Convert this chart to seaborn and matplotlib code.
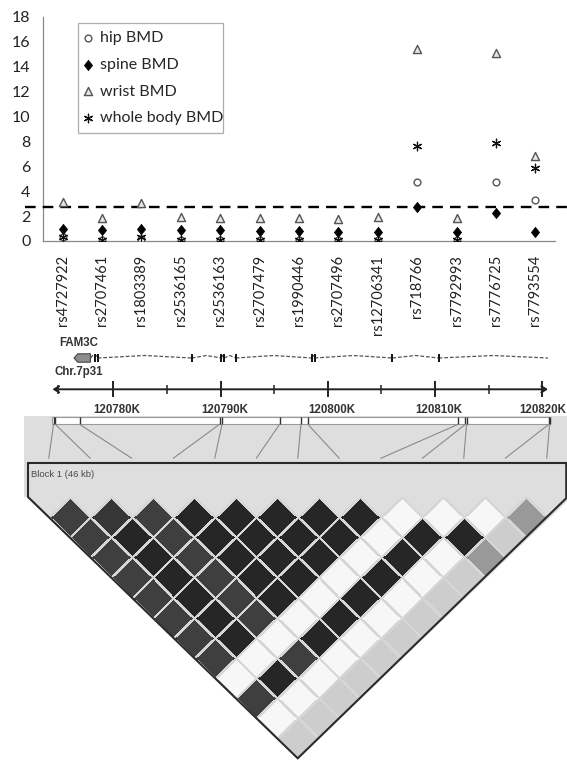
import numpy as np
import pandas as pd
import matplotlib
matplotlib.use("Agg")
import matplotlib.pyplot as plt
import seaborn as sns
from matplotlib.transforms import Affine2D
from matplotlib.patches import Polygon, Rectangle, ConnectionPatch
from matplotlib.colors import LinearSegmentedColormap

# ---------------- data ----------------
snps = ["rs4727922", "rs2707461", "rs1803389", "rs2536165", "rs2536163",
        "rs2707479", "rs1990446", "rs2707496", "rs12706341", "rs718766",
        "rs7792993", "rs7776725", "rs7793554"]
hip_bmd = [0.30, 0.05, 0.20, 0.10, 0.05, 0.10, 0.05, 0.05, 0.10, 4.77, 0.05, 4.77, 3.33]
spine_bmd = [0.96, 0.88, 0.96, 0.88, 0.88, 0.77, 0.77, 0.70, 0.70, 2.69, 0.70, 2.21, 0.75]
wrist_bmd = [3.14, 1.81, 3.01, 1.94, 1.81, 1.86, 1.86, 1.76, 1.90, 15.39, 1.87, 15.12, 6.79]
whole_body_bmd = [0.35, 0.05, 0.30, 0.10, 0.05, 0.12, 0.05, 0.05, 0.10, 7.59, 0.05, 7.85, 5.89]
threshold = 2.7
y_ticks = [0, 2, 4, 6, 8, 10, 12, 14, 16, 18]

gene_name = "FAM3C"
chrom_label = "Chr.7p31"
major_kb = [120780, 120790, 120800, 120810, 120820]
minor_kb = [120785, 120795, 120805, 120815]
axis_start_kb = 120774.34
axis_first_tick_kb = 120774.85
axis_end_kb = 120820.52
snp_pos_kb = [120774.44, 120774.60, 120776.87, 120789.91, 120790.14, 120795.51,
              120797.50, 120798.14, 120812.15, 120812.83, 120812.93, 120820.60, 120820.67]
utr_kb = [120776.35, 120777.88]
exon_kb = [120778.29, 120778.55, 120787.32, 120790.07, 120790.32, 120791.42,
           120798.50, 120798.77, 120806.02, 120810.33]
gene_end_kb = 120820.52
block_label = "Block 1 (46 kb)"

# LD (shade) values, upper triangle rows: ld_rows[i] holds pairs (i, i+1..12)
D, G, M, L, W = 1.0, 0.88, 0.45, 0.20, 0.0
ld_rows = [
    [G, G, G, G, G, G, G, G, W, G, W, L],
    [0.92, D, D, D, D, D, D, W, D, W, L],
    [G, G, G, G, G, G, W, G, W, L],
    [D, D, D, D, D, W, D, W, L],
    [D, D, D, D, W, D, W, L],
    [D, D, D, W, D, W, L],
    [D, D, W, D, W, L],
    [D, W, D, W, L],
    [W, D, W, L],
    [W, D, M],
    [W, L],
    [M],
]

# ---------------- figure ----------------
sns.set_style("white")
plt.rcParams["font.family"] = ["Lato", "DejaVu Sans"]

W_PX, H_PX = 567, 760
fig = plt.figure(figsize=(W_PX / 100, H_PX / 100), dpi=100)


def frac_rect(x0, y0, x1, y1):
    """pixel box (top-left origin) -> figure fraction rect"""
    return [x0 / W_PX, 1 - y1 / H_PX, (x1 - x0) / W_PX, (y1 - y0) / H_PX]


# ---- top association plot ----
ax = fig.add_axes(frac_rect(43, 16.7, 555, 241))
pos = np.arange(len(snps))
df = pd.DataFrame({"pos": pos, "hip": hip_bmd, "spine": spine_bmd,
                   "wrist": wrist_bmd, "whole": whole_body_bmd})

diamond = [(0, 1), (0.8, 0), (0, -1), (-0.8, 0), (0, 1)]
sns.scatterplot(data=df, x="pos", y="hip", marker="o", s=24, facecolor="white",
                edgecolor="#555555", linewidth=1.0, label="hip BMD", ax=ax, zorder=4)
sns.scatterplot(data=df, x="pos", y="spine", marker=diamond, s=55, color="black",
                edgecolor="black", linewidth=0.5, label="spine BMD", ax=ax, zorder=5)
sns.scatterplot(data=df, x="pos", y="wrist", marker="^", s=34, facecolor="#e6e6e6",
                edgecolor="#555555", linewidth=1.0, label="wrist BMD", ax=ax, zorder=4)
sns.scatterplot(data=df, x="pos", y="whole", marker=(6, 2, 0), s=38, color="#111111",
                linewidth=0.9, label="whole body BMD", ax=ax, zorder=6)

ax.axhline(threshold, xmin=-0.035, xmax=1.03, color="black", lw=1.7,
           ls=(0, (4.5, 3)), clip_on=False, zorder=3)

ax.set_xlim(-0.5, len(snps) - 0.5)
ax.set_ylim(0, 18)
ax.set_yticks(y_ticks)
ax.set_xticks(pos)
ax.set_xticklabels(snps, rotation=90, fontsize=10.5, color="#222222")
ax.set_xticks(np.arange(len(snps) + 1) - 0.5, minor=True)
ax.tick_params(axis="x", which="major", length=0, pad=10)
ax.tick_params(axis="x", which="minor", length=3, direction="in", color="#888888", width=0.8)
ax.tick_params(axis="y", length=4, direction="in", color="#888888", width=0.8,
               labelsize=11.5, pad=9, labelcolor="#222222")
ax.set_xlabel("")
ax.set_ylabel("")
for s in ["top", "right"]:
    ax.spines[s].set_visible(False)
for s in ["left", "bottom"]:
    ax.spines[s].set_color("#888888")
    ax.spines[s].set_linewidth(0.9)

leg = ax.legend(loc="upper left", bbox_to_anchor=(0.068, 0.5, 0.283, 0.471),
                mode="expand", borderaxespad=0,
                fontsize=11.5, frameon=True, fancybox=False, handlelength=0.3,
                handletextpad=0.6, labelspacing=0.78, borderpad=0.5)
leg.get_frame().set_edgecolor("#999999")
leg.get_frame().set_linewidth(0.9)

# ---- LD triangle (drawn first so gene axes overlay it) ----
x0_px, w_px, y0_px, h_px = 28.0, 41.5, 497.0, 40.2
n = len(snps)
u_min, u_max, v_min, v_max = -0.1, 13.0, -2.02, 6.5
ax_ld = fig.add_axes(frac_rect(x0_px + w_px * u_min, y0_px + h_px * v_min,
                               x0_px + w_px * u_max, y0_px + h_px * v_max))

ld = np.full((n, n), np.nan)
for i, row in enumerate(ld_rows):
    for k, val in enumerate(row):
        ld[i, i + 1 + k] = val
mask = np.isnan(ld)
cmap = LinearSegmentedColormap.from_list("ldgray", ["#f7f7f7", "#262626"])
sns.heatmap(ld, mask=mask, cmap=cmap, vmin=0, vmax=1, cbar=False,
            linewidths=0.9, linecolor="#d6d6d6", xticklabels=False,
            yticklabels=False, ax=ax_ld)
mesh = ax_ld.collections[0]
mesh.set_transform(Affine2D(np.array([[0.5, 0.5, 0.0], [0.5, -0.5, 0.0], [0, 0, 1]]))
                   + ax_ld.transData)
mesh.set_zorder(3)

ax_ld.set_xlim(u_min, u_max)
ax_ld.set_ylim(v_max, v_min)
ax_ld.axis("off")

tri_clip = Polygon([(0, 0), (n / 2, n / 2), (n, 0)], closed=True,
                   transform=ax_ld.transData, facecolor="none", edgecolor="none")
mesh.set_clip_path(tri_clip)

panel = Polygon([(u_min, v_min), (u_max + 0.1, v_min), (u_max + 0.1, 0), (n / 2, n / 2),
                 (0, 0), (u_min, 0)], closed=True, facecolor="#dedede",
                edgecolor="none", zorder=1)
ax_ld.add_patch(panel)
v_box = -0.846
outline = [(0, v_box), (0, 0), (n / 2, n / 2), (n - 0.03, 0.03), (n - 0.03, v_box), (0, v_box)]
ax_ld.plot([p[0] for p in outline], [p[1] for p in outline], color="#2a2a2a",
           lw=1.5, zorder=5, clip_on=False, solid_joinstyle="miter")
ax_ld.text(0.08, -0.55, block_label, fontsize=6.8, color="#4a4a4a",
           family=["Liberation Sans", "DejaVu Sans"], ha="left", va="center", zorder=6)

# ---- gene / chromosome track ----
px_to_kb = lambda px: 120780 + (px - 113.2) / 10.73
ax_g = fig.add_axes(frac_rect(0, 336, W_PX, 426))
ax_g.set_xlim(px_to_kb(0), px_to_kb(W_PX))
ax_g.set_ylim(426, 336)
ax_g.axis("off")
ax_g.patch.set_alpha(0)

bold = dict(family=["Liberation Sans", "DejaVu Sans"], weight="bold", color="#333333")
ax_g.text(utr_kb[0] - 1.35, 343, gene_name, fontsize=8.3, ha="left", va="center", **bold)
ax_g.text(utr_kb[0] - 1.85, 372.5, chrom_label, fontsize=8.3, ha="left", va="center", **bold)

# introns as shallow chevrons
feat = [utr_kb[1]] + exon_kb + [gene_end_kb]
for a, b in zip(feat[:-1], feat[1:]):
    if b - a < 0.05:
        continue
    ax_g.plot([a, (a + b) / 2, b], [358, 355.5, 358], color="#555555", lw=0.9,
              ls=(0, (3, 1.5)))
ax_g.add_patch(Polygon([(utr_kb[0], 358), (utr_kb[0] + 0.35, 353.8), (utr_kb[1], 353.8),
                        (utr_kb[1], 362.2), (utr_kb[0] + 0.35, 362.2)], closed=True,
                       facecolor="#8c8c8c", edgecolor="#444444", lw=0.8))
ax_g.vlines(exon_kb, 354.3, 362, color="#111111", lw=1.4)

# chromosome axis
ax_g.annotate("", xy=(axis_end_kb, 389.3), xytext=(axis_start_kb, 389.3),
              arrowprops=dict(arrowstyle="<->,head_length=0.35,head_width=0.22",
                              color="#222222", lw=1.4, shrinkA=0, shrinkB=0))
ax_g.vlines(major_kb, 381, 397, color="#222222", lw=1.4)
ax_g.vlines(minor_kb, 384.5, 394, color="#222222", lw=1.1)
ax_g.vlines([axis_first_tick_kb], 385, 393.5, color="#222222", lw=1.1)
for kb in major_kb[:-1]:
    ax_g.text(kb + 0.35, 409.5, f"{kb}K", fontsize=8.3, ha="center", va="center", **bold)
ax_g.text(px_to_kb(566.5), 409.5, f"{major_kb[-1]}K", fontsize=8.3, ha="right",
          va="center", **bold)

# SNP strip
ax_g.add_patch(Rectangle((axis_start_kb, 416.7), px_to_kb(549.7) - axis_start_kb, 7.6,
                         facecolor="white", edgecolor="#9a9a9a", lw=0.8, zorder=2))
ax_g.vlines(snp_pos_kb, 416.7, 424.3, color="#333333", lw=1.0, zorder=3)

for k, kb in enumerate(snp_pos_kb):
    con = ConnectionPatch(xyA=(kb, 424.3), coordsA=ax_g.transData,
                          xyB=(k + 0.5, -0.963), coordsB=ax_ld.transData,
                          color="#8a8a8a", lw=0.8)
    fig.add_artist(con)

fig.savefig("out.png", dpi=100)
